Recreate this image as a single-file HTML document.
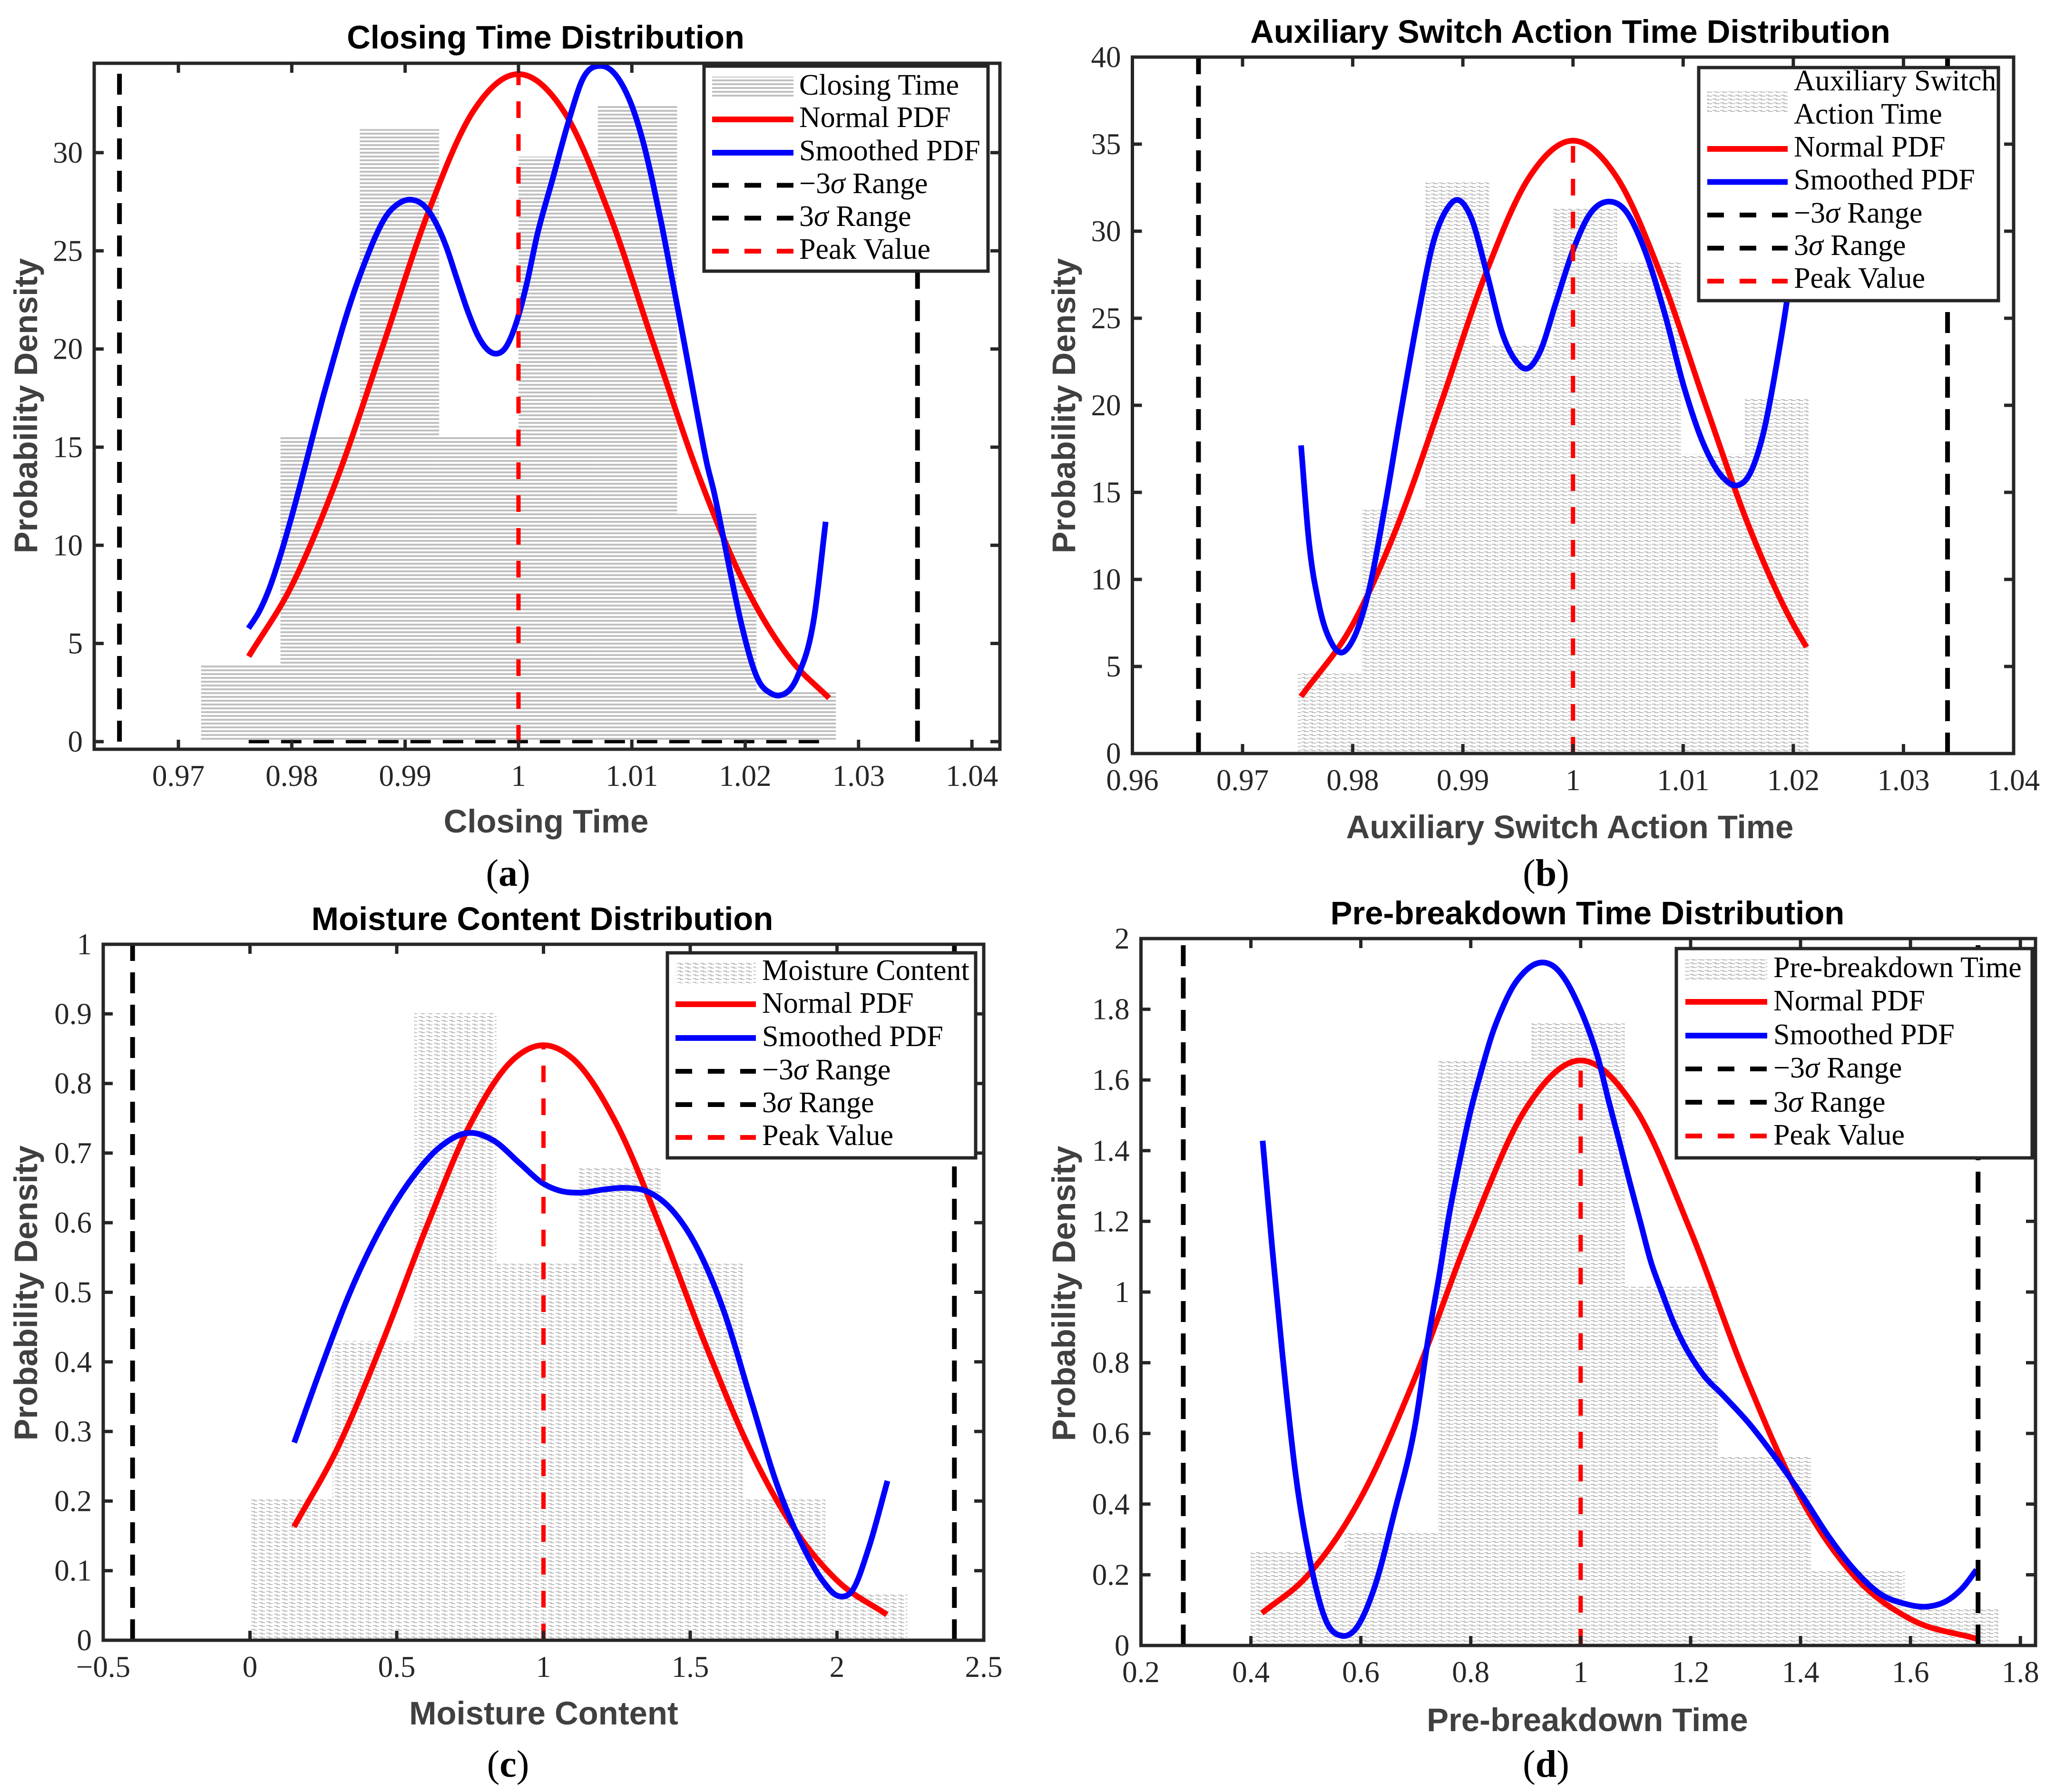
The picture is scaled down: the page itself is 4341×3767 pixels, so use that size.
<!DOCTYPE html>
<html lang="en">
<head>
<meta charset="utf-8">
<title>Distribution charts</title>
<style>
html,body{margin:0;padding:0;background:#fff;}
svg{display:block;}
.title{font:bold 68.8px "Liberation Sans",sans-serif;fill:#000;text-anchor:middle;}
.xlabel{font:bold 68.8px "Liberation Sans",sans-serif;fill:#404040;text-anchor:middle;}
.ylabel{font:bold 68.5px "Liberation Sans",sans-serif;fill:#404040;text-anchor:middle;}
.legend-text{font:62px "Liberation Serif",serif;fill:#000;}
.caption{font:80px "Liberation Serif",serif;fill:#000;text-anchor:middle;}
.tick{font:63px "Liberation Serif",serif;fill:#262626;}
</style>
</head>
<body>
<svg xmlns="http://www.w3.org/2000/svg" width="4341" height="3767" viewBox="0 0 4341 3767">
<defs>
  <pattern id="hatch-a" patternUnits="userSpaceOnUse" x="0" y="7" width="16" height="8">
    <rect x="0" y="0" width="16" height="4" fill="#c0c0c0"/>
  </pattern>
  <pattern id="hatch-b" patternUnits="userSpaceOnUse" x="0" y="7" width="16" height="8">
    <rect x="0" y="0" width="8" height="2" fill="#c0c0c0"/>
    <rect x="5" y="2" width="10" height="2" fill="#c0c0c0"/>
  </pattern>
  <pattern id="hatch-c" patternUnits="userSpaceOnUse" x="0" y="0" width="16" height="8">
    <rect x="0" y="0" width="8" height="2" fill="#c0c0c0"/>
    <rect x="5" y="2" width="8" height="2" fill="#c0c0c0"/>
  </pattern>
  <pattern id="hatch-d" patternUnits="userSpaceOnUse" x="0" y="7" width="16" height="8">
    <rect x="0" y="0" width="8" height="2" fill="#c0c0c0"/>
    <rect x="5" y="2" width="10" height="2" fill="#c0c0c0"/>
  </pattern>
</defs>

<!-- Panel a -->
<g>
  <text class="title" x="1147" y="102">Closing Time Distribution</text>
  <g id="plot-a"></g>
  <text class="xlabel" x="1148" y="1750">Closing Time</text>
  <text class="ylabel" x="78" y="853" transform="rotate(-90 78 853)">Probability Density</text>
  <g>
    <rect x="1480" y="139" width="597" height="431" fill="#fff" stroke="#262626" stroke-width="7"/>
    <rect x="1497" y="161" width="171" height="42" fill="url(#hatch-a)"/>
    <text class="legend-text" x="1680" y="199">Closing Time</text>
    <rect x="1497" y="245" width="171" height="12" fill="#f00"/>
    <text class="legend-text" x="1680" y="267">Normal PDF</text>
    <rect x="1497" y="315" width="171" height="12" fill="#00f"/>
    <text class="legend-text" x="1680" y="337">Smoothed PDF</text>
    <line x1="1497" x2="1668" y1="389.5" y2="389.5" stroke="#000" stroke-width="10" stroke-dasharray="35 33"/>
    <text class="legend-text" x="1680" y="406">−3<tspan font-style="italic">σ</tspan> Range</text>
    <line x1="1497" x2="1668" y1="458.5" y2="458.5" stroke="#000" stroke-width="10" stroke-dasharray="35 33"/>
    <text class="legend-text" x="1680" y="475">3<tspan font-style="italic">σ</tspan> Range</text>
    <line x1="1497" x2="1668" y1="528" y2="528" stroke="#f00" stroke-width="10" stroke-dasharray="35 33"/>
    <text class="legend-text" x="1680" y="544">Peak Value</text>
  </g>
  <text class="caption" x="1068" y="1862">(<tspan font-weight="bold">a</tspan>)</text>
</g>

<!-- Panel b -->
<g>
  <text class="title" x="3301" y="90">Auxiliary Switch Action Time Distribution</text>
  <g id="plot-b"></g>
  <text class="xlabel" x="3300" y="1762">Auxiliary Switch Action Time</text>
  <text class="ylabel" x="2260" y="853" transform="rotate(-90 2260 853)">Probability Density</text>
  <g>
    <rect x="3571" y="142" width="630" height="490" fill="#fff" stroke="#262626" stroke-width="7"/>
    <rect x="3589" y="192" width="169" height="45" fill="url(#hatch-b)"/>
    <text class="legend-text" x="3771" y="190">Auxiliary Switch</text>
    <text class="legend-text" x="3771" y="260">Action Time</text>
    <rect x="3589" y="307" width="169" height="12" fill="#f00"/>
    <text class="legend-text" x="3771" y="329">Normal PDF</text>
    <rect x="3589" y="376.5" width="169" height="12" fill="#00f"/>
    <text class="legend-text" x="3771" y="398">Smoothed PDF</text>
    <line x1="3589" x2="3758" y1="452" y2="452" stroke="#000" stroke-width="10" stroke-dasharray="35 33"/>
    <text class="legend-text" x="3771" y="468">−3<tspan font-style="italic">σ</tspan> Range</text>
    <line x1="3589" x2="3758" y1="521.6" y2="521.6" stroke="#000" stroke-width="10" stroke-dasharray="35 33"/>
    <text class="legend-text" x="3771" y="536">3<tspan font-style="italic">σ</tspan> Range</text>
    <line x1="3589" x2="3758" y1="591" y2="591" stroke="#f00" stroke-width="10" stroke-dasharray="35 33"/>
    <text class="legend-text" x="3771" y="605">Peak Value</text>
  </g>
  <text class="caption" x="3250" y="1862">(<tspan font-weight="bold">b</tspan>)</text>
</g>

<!-- Panel c -->
<g>
  <text class="title" x="1140" y="1955">Moisture Content Distribution</text>
  <g id="plot-c"></g>
  <text class="xlabel" x="1143" y="3625">Moisture Content</text>
  <text class="ylabel" x="78" y="2718" transform="rotate(-90 78 2718)">Probability Density</text>
  <g>
    <rect x="1403" y="2003" width="648" height="431" fill="#fff" stroke="#262626" stroke-width="7"/>
    <rect x="1420" y="2022" width="169" height="45" fill="url(#hatch-c)"/>
    <text class="legend-text" x="1602" y="2060">Moisture Content</text>
    <rect x="1420" y="2105" width="169" height="12" fill="#f00"/>
    <text class="legend-text" x="1602" y="2129">Normal PDF</text>
    <rect x="1420" y="2176" width="169" height="12" fill="#00f"/>
    <text class="legend-text" x="1602" y="2199">Smoothed PDF</text>
    <line x1="1420" x2="1589" y1="2252" y2="2252" stroke="#000" stroke-width="10" stroke-dasharray="35 33"/>
    <text class="legend-text" x="1602" y="2269">−3<tspan font-style="italic">σ</tspan> Range</text>
    <line x1="1420" x2="1589" y1="2322" y2="2322" stroke="#000" stroke-width="10" stroke-dasharray="35 33"/>
    <text class="legend-text" x="1602" y="2338">3<tspan font-style="italic">σ</tspan> Range</text>
    <line x1="1420" x2="1589" y1="2391" y2="2391" stroke="#f00" stroke-width="10" stroke-dasharray="35 33"/>
    <text class="legend-text" x="1602" y="2407">Peak Value</text>
  </g>
  <text class="caption" x="1068" y="3735">(<tspan font-weight="bold">c</tspan>)</text>
</g>

<!-- Panel d -->
<g>
  <text class="title" x="3337" y="1943">Pre-breakdown Time Distribution</text>
  <g id="plot-d"></g>
  <text class="xlabel" x="3337" y="3639">Pre-breakdown Time</text>
  <text class="ylabel" x="2260" y="2719" transform="rotate(-90 2260 2719)">Probability Density</text>
  <g>
    <rect x="3524" y="1994" width="748" height="440" fill="#fff" stroke="#262626" stroke-width="7"/>
    <rect x="3543" y="2016" width="172" height="47" fill="url(#hatch-d)"/>
    <text class="legend-text" x="3728" y="2054">Pre-breakdown Time</text>
    <rect x="3543" y="2100" width="172" height="12" fill="#f00"/>
    <text class="legend-text" x="3728" y="2124">Normal PDF</text>
    <rect x="3543" y="2171" width="172" height="12" fill="#00f"/>
    <text class="legend-text" x="3728" y="2195">Smoothed PDF</text>
    <line x1="3543" x2="3715" y1="2247" y2="2247" stroke="#000" stroke-width="10" stroke-dasharray="35 33"/>
    <text class="legend-text" x="3728" y="2265">−3<tspan font-style="italic">σ</tspan> Range</text>
    <line x1="3543" x2="3715" y1="2317" y2="2317" stroke="#000" stroke-width="10" stroke-dasharray="35 33"/>
    <text class="legend-text" x="3728" y="2337">3<tspan font-style="italic">σ</tspan> Range</text>
    <line x1="3543" x2="3715" y1="2388" y2="2388" stroke="#f00" stroke-width="10" stroke-dasharray="35 33"/>
    <text class="legend-text" x="3728" y="2406">Peak Value</text>
  </g>
  <text class="caption" x="3250" y="3735">(<tspan font-weight="bold">d</tspan>)</text>
</g>
</svg>

<script>
// ---- Panel a data ----
const aBinEdges = [0.972,0.979,0.986,0.993,1.000,1.007,1.014,1.021,1.028];
const aBinHeights = [3.9,15.6,31.2,15.6,29.8,32.4,11.6,2.6];
const aNormalX = [0.9762,0.98,0.984,0.988,0.992,0.996,1,1.004,1.008,1.012,1.016,1.02,1.024,1.0274];
const aNormalY = [4.34,7.95,13.4,20.1,26.9,32.1,34,32.1,26.9,20.1,13.4,7.95,4.19,2.22];
const aSmoothX = [0.97618,0.97712,0.97806,0.97899,0.97993,0.98087,0.9818,0.98274,0.98368,0.9846,0.98555,0.98649,0.98742,0.98836,0.9893,0.9906,0.99174,0.99266,0.9936,0.99455,0.99548,0.9964,0.99736,0.99799,0.99885,0.99979,1.00072,1.00164,1.00297,1.00462,1.00559,1.00726,1.00894,1.01008,1.01104,1.01184,1.01264,1.01344,1.01427,1.01507,1.01587,1.01667,1.01721,1.018,1.0188,1.0197,1.0211,1.0223,1.023,1.0246,1.0261,1.0271];
const aSmoothY = [5.77,6.62,7.86,9.48,11.34,13.35,15.43,17.52,19.46,21.3,23.0,24.47,25.78,26.8,27.36,27.6,27.26,26.48,25.25,23.6,22.0,20.7,19.92,19.76,20.06,21.3,23.3,25.78,28.57,31.98,33.66,34.42,33.66,32.26,30.45,28.5,26.3,23.9,21.4,18.9,16.4,14.04,12.8,10.6,8.3,5.9,3.2,2.45,2.35,3.3,6.4,11.2];
const aSigmaLow = 0.9648;
const aSigmaHigh = 1.0352;
const aPeakX = 1;
const aPeakY = 34;
const aXTicks = [0.97,0.98,0.99,1,1.01,1.02,1.03,1.04];
const aXTickLabels = ["0.97","0.98","0.99","1","1.01","1.02","1.03","1.04"];
const aYTicks = [0,5,10,15,20,25,30];
const aYTickLabels = ["0","5","10","15","20","25","30"];

// ---- Panel b data ----
const bBinEdges = [0.97501,0.98081,0.98661,0.99241,0.9982,1.004,1.0098,1.0156,1.0214];
const bBinHeights = [4.6,14.0,32.8,23.5,31.3,28.2,17.2,20.4];
const bNormalX = [0.9753,0.98,0.984,0.988,0.992,0.996,1,1.004,1.008,1.012,1.016,1.02,1.0212];
const bNormalY = [3.27,7.41,12.99,20.09,27.44,33.07,35.2,33.07,27.44,20.09,12.99,7.41,6.11];
const bSmoothX = [0.97531,0.97602,0.97692,0.97812,0.97889,0.97991,0.98141,0.9829,0.9844,0.98589,0.98738,0.98858,0.98948,0.99067,0.99217,0.99366,0.99486,0.99575,0.99695,0.99845,1.0,1.00144,1.00323,1.00473,1.00652,1.00831,1.0101,1.0119,1.01369,1.01489,1.01608,1.01728,1.01847,1.01955,1.0212];
const bSmoothY = [17.7,12.2,8.6,6.3,5.8,6.4,9.2,14.1,19.7,25,29.5,31.3,31.8,30.9,27.6,24,22.5,22.1,23,25.9,28.9,30.9,31.7,31.2,28.9,25.3,21,17.7,15.8,15.4,16.1,18.4,22.3,26.6,36];
const bSigmaLow = 0.966;
const bSigmaHigh = 1.034;
const bPeakX = 1;
const bPeakY = 35.2;
const bXTicks = [0.96,0.97,0.98,0.99,1,1.01,1.02,1.03,1.04];
const bXTickLabels = ["0.96","0.97","0.98","0.99","1","1.01","1.02","1.03","1.04"];
const bYTicks = [0,5,10,15,20,25,30,35,40];
const bYTickLabels = ["0","5","10","15","20","25","30","35","40"];

// ---- Panel c data ----
const cBinEdges = [0,0.28,0.56,0.84,1.12,1.40,1.68,1.96,2.24];
const cBinHeights = [0.203,0.43,0.901,0.541,0.678,0.541,0.203,0.067];
const cNormalX = [0.15,0.3,0.45,0.6,0.75,0.9,1,1.1,1.25,1.4,1.55,1.7,1.85,2.0,2.17];
const cNormalY = [0.163,0.2775,0.427,0.592,0.741,0.8356,0.855,0.8356,0.741,0.592,0.427,0.2775,0.163,0.086,0.0368];
const cSmoothX = [0.1507,0.247,0.337,0.449,0.561,0.651,0.745,0.83,0.92,1.0,1.055,1.122,1.212,1.279,1.358,1.436,1.526,1.616,1.705,1.795,1.885,1.952,2.002,2.053,2.109,2.172];
const cSmoothY = [0.284,0.397,0.496,0.595,0.669,0.71,0.729,0.718,0.685,0.656,0.646,0.643,0.648,0.65,0.644,0.619,0.562,0.471,0.348,0.2245,0.134,0.085,0.064,0.072,0.134,0.229];
const cSigmaLow = -0.4;
const cSigmaHigh = 2.4;
const cPeakX = 1;
const cPeakY = 0.855;
const cXTicks = [-0.5,0,0.5,1,1.5,2,2.5];
const cXTickLabels = ["−0.5","0","0.5","1","1.5","2","2.5"];
const cYTicks = [0,0.1,0.2,0.3,0.4,0.5,0.6,0.7,0.8,0.9,1];
const cYTickLabels = ["0","0.1","0.2","0.3","0.4","0.5","0.6","0.7","0.8","0.9","1"];

// ---- Panel d data ----
const dBinEdges = [0.4,0.57,0.74,0.91,1.08,1.25,1.42,1.59,1.76];
const dBinHeights = [0.266,0.319,1.658,1.76,1.015,0.534,0.212,0.102];
const dNormalX = [0.42,0.5,0.6,0.7,0.8,0.9,1,1.1,1.2,1.3,1.4,1.5,1.6,1.72];
const dNormalY = [0.0915,0.1926,0.4176,0.7628,1.173,1.518,1.655,1.518,1.173,0.7628,0.4176,0.1926,0.0747,0.0191];
const dSmoothX = [0.4214,0.439,0.457,0.481,0.511,0.535,0.565,0.589,0.625,0.661,0.6996,0.7228,0.7421,0.7611,0.7806,0.8,0.8191,0.8386,0.858,0.8771,0.8966,0.916,0.9341,0.9545,0.9739,0.993,1.0124,1.0319,1.051,1.07,1.0899,1.1089,1.1279,1.1478,1.1669,1.186,1.2055,1.2249,1.259,1.307,1.355,1.403,1.45,1.498,1.546,1.59,1.63,1.67,1.696,1.72];
const dSmoothY = [1.428,1.12,0.829,0.489,0.214,0.076,0.0275,0.044,0.165,0.376,0.631,0.87,1.042,1.222,1.376,1.514,1.625,1.728,1.805,1.865,1.904,1.927,1.932,1.917,1.879,1.822,1.75,1.66,1.54,1.428,1.307,1.196,1.085,0.999,0.921,0.857,0.805,0.762,0.708,0.627,0.53,0.424,0.311,0.214,0.145,0.118,0.11,0.13,0.165,0.214];
const dSigmaLow = 0.277;
const dSigmaHigh = 1.723;
const dPeakX = 1;
const dPeakY = 1.655;
const dXTicks = [0.2,0.4,0.6,0.8,1,1.2,1.4,1.6,1.8];
const dXTickLabels = ["0.2","0.4","0.6","0.8","1","1.2","1.4","1.6","1.8"];
const dYTicks = [0,0.2,0.4,0.6,0.8,1,1.2,1.4,1.6,1.8,2];
const dYTickLabels = ["0","0.2","0.4","0.6","0.8","1","1.2","1.4","1.6","1.8","2"];

const NS = "http://www.w3.org/2000/svg";
const AXIS_COLOR = "#262626";

function mk(parent, tag, attrs) {
  const el = document.createElementNS(NS, tag);
  for (const k in attrs) el.setAttribute(k, attrs[k]);
  parent.appendChild(el);
  return el;
}

// Cubic Hermite spline with spacing-aware tangents, so uneven samples stay smooth.
function smoothPath(xs, ys, sx, sy) {
  const px = xs.map(sx), py = ys.map(sy), n = px.length;
  const h = [], s = [], m = [];
  for (let i = 0; i < n - 1; i++) {
    h.push(px[i + 1] - px[i]);
    s.push((py[i + 1] - py[i]) / h[i]);
  }
  m.push(s[0]);
  for (let i = 1; i < n - 1; i++) {
    m.push((s[i - 1] * h[i] + s[i] * h[i - 1]) / (h[i - 1] + h[i]));
  }
  m.push(s[n - 2]);
  let d = "M" + px[0].toFixed(1) + " " + py[0].toFixed(1);
  for (let i = 0; i < n - 1; i++) {
    const c1x = px[i] + h[i] / 3, c1y = py[i] + m[i] * h[i] / 3;
    const c2x = px[i + 1] - h[i] / 3, c2y = py[i + 1] - m[i + 1] * h[i] / 3;
    d += "C" + c1x.toFixed(1) + " " + c1y.toFixed(1) + " " + c2x.toFixed(1) + " " + c2y.toFixed(1) + " " + px[i + 1].toFixed(1) + " " + py[i + 1].toFixed(1);
  }
  return d;
}

function drawPanel(p) {
  const g = document.getElementById(p.id);
  const sx = v => p.left + (v - p.xMin) / (p.xMax - p.xMin) * (p.right - p.left);
  const sy = v => p.y0 - v * p.yScale;

  // histogram
  p.heights.forEach((h, i) => {
    const bar = mk(g, "rect", {
      x: sx(p.edges[i]), y: sy(h),
      width: sx(p.edges[i + 1]) - sx(p.edges[i]),
      height: sy(0) - sy(h),
      fill: "url(#" + p.hatch + ")"
    });
    
    
  });

  // normal curve
  const normal = mk(g, "path", {
    d: smoothPath(p.normalX, p.normalY, sx, sy), fill: "none", stroke: "#f00", "stroke-width": 12
  });
  
  

  // smoothed curve
  const smooth = mk(g, "path", {
    d: smoothPath(p.smoothX, p.smoothY, sx, sy), fill: "none", stroke: "#00f", "stroke-width": 12
  });
  
  

  // zero line along the sample range
  const zero = mk(g, "line", {
    x1: sx(p.normalX[0]), x2: sx(p.normalX[p.normalX.length - 1]), y1: sy(0), y2: sy(0),
    stroke: "#000", "stroke-width": 7, "stroke-dasharray": "43 25"
  });
  
  

  // sigma lines
  const low = mk(g, "line", {
    x1: sx(p.sigmaLow), x2: sx(p.sigmaLow), y1: sy(0), y2: p.top,
    stroke: "#000", "stroke-width": 10, "stroke-dasharray": "44 24"
  });
  
  

  const high = mk(g, "line", {
    x1: sx(p.sigmaHigh), x2: sx(p.sigmaHigh), y1: sy(0), y2: p.top,
    stroke: "#000", "stroke-width": 10, "stroke-dasharray": "44 24"
  });
  
  

  // peak line
  const peak = mk(g, "line", {
    x1: sx(p.peakX), x2: sx(p.peakX), y1: sy(0), y2: sy(p.peakY),
    stroke: "#f00", "stroke-width": 9, "stroke-dasharray": "35 34"
  });
  
  

  // axes box
  const box = mk(g, "rect", {
    x: p.left, y: p.top, width: p.right - p.left, height: p.bottom - p.top,
    fill: "none", stroke: AXIS_COLOR, "stroke-width": 7
  });
  
  

  // x ticks
  p.xTicks.forEach((t, i) => {
    const x = sx(t);
    const tb = mk(g, "line", { x1: x, x2: x, y1: p.bottom, y2: p.bottom - 20, stroke: AXIS_COLOR, "stroke-width": 7 });
    
    
    const tt = mk(g, "line", { x1: x, x2: x, y1: p.top, y2: p.top + 20, stroke: AXIS_COLOR, "stroke-width": 7 });
    
    
    const lab = mk(g, "text", { x: x, y: p.bottom + 77, "text-anchor": "middle", class: "tick" });
    
    
    lab.textContent = p.xLabels[i];
  });

  // y ticks
  p.yTicks.forEach((t, i) => {
    const y = sy(t);
    const tl = mk(g, "line", { x1: p.left, x2: p.left + 20, y1: y, y2: y, stroke: AXIS_COLOR, "stroke-width": 7 });
    
    
    const tr = mk(g, "line", { x1: p.right, x2: p.right - 20, y1: y, y2: y, stroke: AXIS_COLOR, "stroke-width": 7 });
    
    
    const lab = mk(g, "text", { x: p.left - 24, y: y + 21, "text-anchor": "end", class: "tick" });
    
    
    lab.textContent = p.yLabels[i];
  });
}

drawPanel({
  id: "plot-a", hatch: "hatch-a", left: 198, right: 2102, top: 133, bottom: 1575,
  xMin: 0.96257, xMax: 1.04247, y0: 1559, yScale: 41.27,
  edges: aBinEdges, heights: aBinHeights, normalX: aNormalX, normalY: aNormalY,
  smoothX: aSmoothX, smoothY: aSmoothY, sigmaLow: aSigmaLow, sigmaHigh: aSigmaHigh,
  peakX: aPeakX, peakY: aPeakY, xTicks: aXTicks, xLabels: aXTickLabels, yTicks: aYTicks, yLabels: aYTickLabels
});
drawPanel({
  id: "plot-b", hatch: "hatch-b", left: 2380.5, right: 4233, top: 120, bottom: 1584,
  xMin: 0.96, xMax: 1.04, y0: 1584, yScale: 36.6,
  edges: bBinEdges, heights: bBinHeights, normalX: bNormalX, normalY: bNormalY,
  smoothX: bSmoothX, smoothY: bSmoothY, sigmaLow: bSigmaLow, sigmaHigh: bSigmaHigh,
  peakX: bPeakX, peakY: bPeakY, xTicks: bXTicks, xLabels: bXTickLabels, yTicks: bYTicks, yLabels: bYTickLabels
});
drawPanel({
  id: "plot-c", hatch: "hatch-c", left: 217, right: 2068, top: 1985, bottom: 3448,
  xMin: -0.5, xMax: 2.5, y0: 3448, yScale: 1463,
  edges: cBinEdges, heights: cBinHeights, normalX: cNormalX, normalY: cNormalY,
  smoothX: cSmoothX, smoothY: cSmoothY, sigmaLow: cSigmaLow, sigmaHigh: cSigmaHigh,
  peakX: cPeakX, peakY: cPeakY, xTicks: cXTicks, xLabels: cXTickLabels, yTicks: cYTicks, yLabels: cYTickLabels
});
drawPanel({
  id: "plot-d", hatch: "hatch-d", left: 2398.5, right: 4279, top: 1973, bottom: 3459,
  xMin: 0.2, xMax: 1.8275, y0: 3459, yScale: 743,
  edges: dBinEdges, heights: dBinHeights, normalX: dNormalX, normalY: dNormalY,
  smoothX: dSmoothX, smoothY: dSmoothY, sigmaLow: dSigmaLow, sigmaHigh: dSigmaHigh,
  peakX: dPeakX, peakY: dPeakY, xTicks: dXTicks, xLabels: dXTickLabels, yTicks: dYTicks, yLabels: dYTickLabels
});
</script>
</body>
</html>
